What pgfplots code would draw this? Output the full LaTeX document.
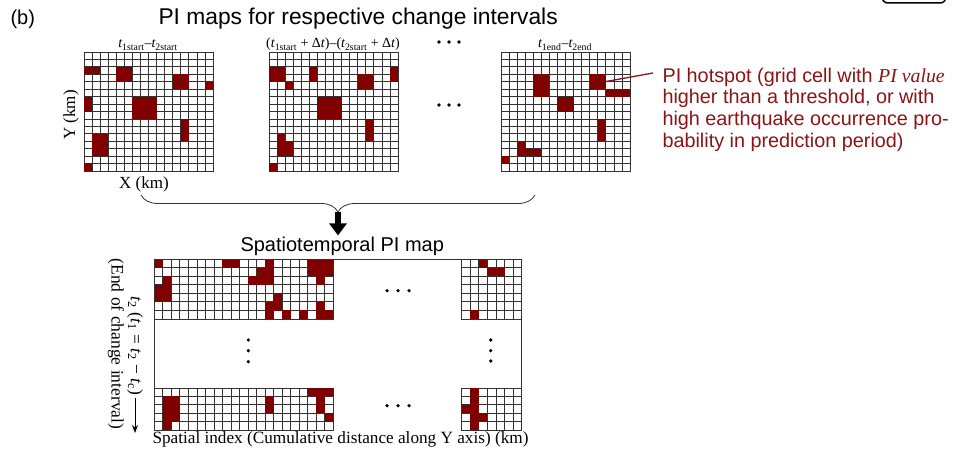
\documentclass[border=0pt]{standalone}
\usepackage{fontspec}
\setmainfont{Liberation Sans}
\newfontfamily\serif{Liberation Serif}
\usepackage{pgfplots}
\pgfplotsset{compat=1.18}
\usepackage{pgfplotstable}
\usetikzlibrary{decorations.pathreplacing, arrows.meta}

\definecolor{hot}{RGB}{128,0,0}
\definecolor{callout}{RGB}{139,20,20}
\definecolor{gridc}{RGB}{50,50,50}

% italic variable with an upright subscript
\newcommand{\ts}[2]{{\itshape #1}\textsubscript{#2}}

% filled squares the size of one grid cell (one per grid geometry)
\pgfdeclareplotmark{cellT}{\pgfpathrectangle{\pgfpoint{-4.1pt}{-3.8pt}}{\pgfpoint{8.2pt}{7.6pt}}\pgfusepathqfill}
\pgfdeclareplotmark{cellA}{\pgfpathrectangle{\pgfpoint{-4.33pt}{-4.36pt}}{\pgfpoint{8.66pt}{8.72pt}}\pgfusepathqfill}
\pgfdeclareplotmark{cellB}{\pgfpathrectangle{\pgfpoint{-4.36pt}{-4.36pt}}{\pgfpoint{8.72pt}{8.72pt}}\pgfusepathqfill}
\pgfdeclareplotmark{cellC}{\pgfpathrectangle{\pgfpoint{-4.33pt}{-4.26pt}}{\pgfpoint{8.66pt}{8.52pt}}\pgfusepathqfill}
\pgfdeclareplotmark{cellD}{\pgfpathrectangle{\pgfpoint{-4.36pt}{-4.26pt}}{\pgfpoint{8.72pt}{8.52pt}}\pgfusepathqfill}

\pgfplotsset{
  pimap/.style 2 args={
    scale only axis, anchor=south west, clip=false,
    xmin=0, xmax=#1, ymin=0, ymax=#2, y dir=reverse,
    xtick={0,...,#1}, ytick={0,...,#2},
    xticklabels={}, yticklabels={},
    major tick length=0pt,
    grid=major, major grid style={gridc, line width=0.75pt},
    axis line style={gridc, line width=0.85pt},
  },
}

% hotspot cells: column c, row r (row 0 at the top)
\pgfplotstableread{
c r
0 2
1 2
4 2
5 2
4 3
5 3
11 3
12 3
11 4
12 4
15 4
0 6
0 7
6 6
7 6
8 6
6 7
7 7
8 7
6 8
7 8
8 8
12 9
12 10
12 11
1 11
2 11
1 12
2 12
1 13
2 13
0 15
}\mapfirst

\pgfplotstableread{
c r
0 2
1 2
0 3
1 3
2 4
5 2
5 3
11 3
12 3
11 4
12 4
15 2
15 3
6 6
7 6
8 6
6 7
7 7
8 7
6 8
7 8
8 8
12 9
12 10
12 11
1 11
1 12
1 13
2 12
2 13
0 15
}\mapsecond

\pgfplotstableread{
c r
4 3
5 3
4 4
5 4
4 5
5 5
11 3
12 3
11 4
12 4
13 5
14 5
15 5
7 6
8 6
7 7
8 7
12 9
12 10
12 11
2 12
2 13
3 13
4 13
0 14
}\maplast

\pgfplotstableread{
c r
0 0
8 0
9 0
13 0
18 0
19 0
20 0
12 1
13 1
18 1
19 1
20 1
1 2
11 2
12 2
13 2
19 2
0 3
1 3
0 4
1 4
14 4
13 5
14 5
19 5
13 6
15 6
17 6
19 6
20 6
}\stA

\pgfplotstableread{
c r
2 0
3 1
4 1
1 6
}\stB

\pgfplotstableread{
c r
18 0
19 0
20 0
1 1
2 1
13 1
19 1
1 2
2 2
13 2
19 2
1 3
2 3
20 3
1 4
}\stC

\pgfplotstableread{
c r
1 0
1 1
0 2
1 2
1 3
2 3
1 4
}\stD

\begin{document}
\begin{tikzpicture}[x=1pt, y=1pt]
\useasboundingbox (0,0) rectangle (957,455);

% ---- PI maps of the individual change intervals ----
\begin{axis}[pimap={16}{16}, at={(84pt,284pt)}, width=129pt, height=119pt]
\addplot[only marks, mark=cellT, hot] table[x expr=\thisrow{c}+0.5, y expr=\thisrow{r}+0.5] {\mapfirst};
\end{axis}
\begin{axis}[pimap={16}{16}, at={(269pt,284pt)}, width=129pt, height=119pt]
\addplot[only marks, mark=cellT, hot] table[x expr=\thisrow{c}+0.5, y expr=\thisrow{r}+0.5] {\mapsecond};
\end{axis}
\begin{axis}[pimap={16}{16}, at={(501pt,284pt)}, width=129pt, height=119pt]
\addplot[only marks, mark=cellT, hot] table[x expr=\thisrow{c}+0.5, y expr=\thisrow{r}+0.5] {\maplast};
\end{axis}

% ---- spatiotemporal PI map ----
\begin{axis}[pimap={21}{7}, at={(154.3pt,136pt)}, width=179pt, height=60pt]
\addplot[only marks, mark=cellA, hot] table[x expr=\thisrow{c}+0.5, y expr=\thisrow{r}+0.5] {\stA};
\end{axis}
\begin{axis}[pimap={7}{7}, at={(461.7pt,136pt)}, width=60pt, height=60pt]
\addplot[only marks, mark=cellB, hot] table[x expr=\thisrow{c}+0.5, y expr=\thisrow{r}+0.5] {\stB};
\end{axis}
\begin{axis}[pimap={21}{5}, at={(154.3pt,25pt)}, width=179pt, height=42pt]
\addplot[only marks, mark=cellC, hot] table[x expr=\thisrow{c}+0.5, y expr=\thisrow{r}+0.5] {\stC};
\end{axis}
\begin{axis}[pimap={7}{5}, at={(461.7pt,25pt)}, width=60pt, height=42pt]
\addplot[only marks, mark=cellD, hot] table[x expr=\thisrow{c}+0.5, y expr=\thisrow{r}+0.5] {\stD};
\end{axis}

\draw[gridc, line width=0.85pt] (154.3,67) -- (154.3,196) -- (521.7,196) -- (521.7,67);

% ---- texts ----
\node[anchor=west, font=\fontsize{20}{24}\selectfont] at (7,436) {(b)};
\node[anchor=base west, font=\fontsize{22.8}{26}\selectfont] at (155,430) {PI maps for respective change intervals};

\node[anchor=base, font=\serif\fontsize{14}{16}\selectfont] at (148,407) {\ts{t}{1start}–\ts{t}{2start}};
\node[anchor=base, font=\serif\fontsize{14}{16}\selectfont] at (333,407) {(\ts{t}{1start} + Δ{\itshape t})–(\ts{t}{2start} + Δ{\itshape t})};
\node[anchor=base, font=\serif\fontsize{14}{16}\selectfont] at (565,407) {\ts{t}{1end}–\ts{t}{2end}};

\node[rotate=90, font=\serif\fontsize{17}{20}\selectfont] at (71,340) {Y (km)};
\node[font=\serif\fontsize{17}{20}\selectfont] at (144,271) {X (km)};

\draw[callout, line width=1.3pt] (606,373.5) -- (653,382);
\begin{scope}[every node/.style={anchor=base west, callout, font=\fontsize{19.8}{22}\selectfont}]
\node at (659,372) {PI hotspot (grid cell with {\serif\itshape PI value}};
\node at (659,351) {higher than a threshold, or with};
\node at (659,329) {high earthquake occurrence pro-};
\node at (659,307.5) {bability in prediction period)};
\end{scope}

\draw[gridc, line width=0.8pt, decorate, decoration={brace, mirror, amplitude=17pt}] (141,260) -- (535,260);
\draw[line width=5.5pt, -{Triangle[width=17pt, length=12pt]}] (338,243) -- (338,219.5);

\node[anchor=base west, font=\fontsize{20}{24}\selectfont] at (237,203) {Spatiotemporal PI map};

\node[anchor=base west, font=\serif\fontsize{17.2}{20}\selectfont] at (149,12) {Spatial index (Cumulative distance along Y axis) (km)};

\node[rotate=-90, font=\serif\fontsize{17.5}{20}\selectfont] at (116,111) {(End of change interval)};
\node[rotate=-90, font=\serif\fontsize{17.5}{20}\selectfont] at (135,109) {\ts{t}{2} (\ts{t}{1} = \ts{t}{2} − \ts{t}{c})};
\draw[line width=1pt, -{Stealth[length=8pt, width=6pt]}] (135,57) -- (135,22);

% ellipses
\foreach \p in {(439,413),(449,413),(459,413),(439,350),(449,350),(459,350),
  (387,164.3),(398,164.3),(409,164.3),(387,49.3),(398,49.3),(409,49.3),
  (490.7,115),(490.7,104.3),(490.7,94),(248.3,115),(248.3,104.3),(248.3,93.3)}
  \fill \p circle (1.8);

\draw[line width=1.5pt, rounded corners=6pt] (882,452) rectangle (946,480);
\end{tikzpicture}
\end{document}
